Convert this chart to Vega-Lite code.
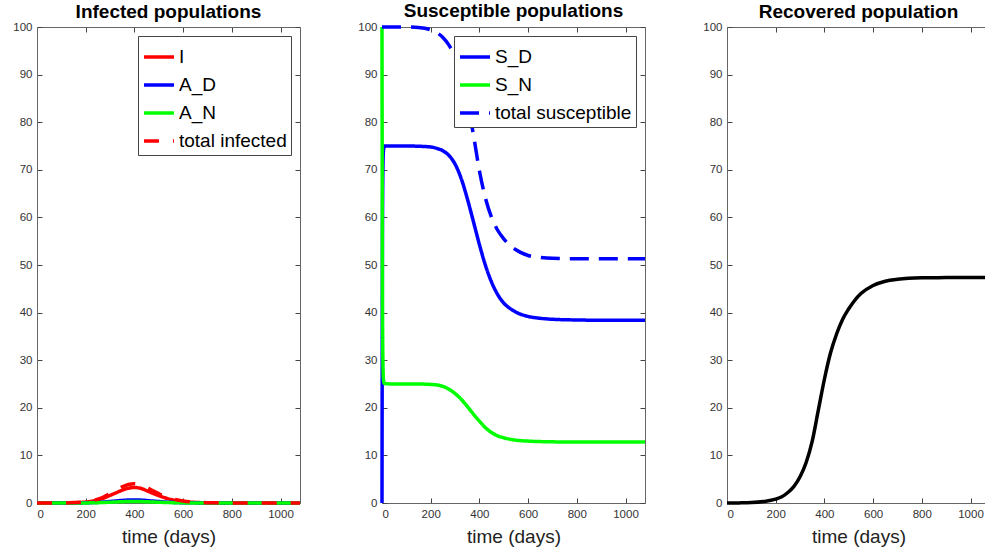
{
  "$schema": "https://vega.github.io/schema/vega-lite/v6.json",
  "background": "white",
  "padding": {"left": 12, "top": 2, "right": 0, "bottom": 0},
  "config": {
    "font": "Liberation Sans",
    "view": {"stroke": null},
    "axis": {
      "grid": false,
      "domainColor": "#666",
      "domainWidth": 1,
      "tickColor": "#444",
      "tickWidth": 1,
      "tickSize": -5,
      "labelPadding": 10,
      "labelFont": "Liberation Sans",
      "labelFontSize": 11.5,
      "labelColor": "#333",
      "format": "d",
      "titleFont": "Liberation Sans",
      "titleFontSize": 19,
      "titleFontWeight": "normal",
      "titleColor": "#222",
      "titlePadding": 8
    },
    "title": {"font": "Liberation Sans", "fontSize": 19, "fontWeight": "bold", "color": "#000", "offset": -1},
    "legend": {
      "labelFont": "Liberation Sans",
      "labelFontSize": 19,
      "labelColor": "#000",
      "labelLimit": 400,
      "symbolType": "stroke",
      "symbolSize": 900,
      "symbolStrokeWidth": 3.5,
      "strokeColor": "#444",
      "fillColor": "white",
      "padding": 4,
      "rowPadding": 1,
      "labelOffset": 3,
      "offset": 9
    },
    "concat": {"spacing": 50}
  },
  "datasets": {
    "infected": [
      {"series": "I", "t": 0, "v": 0}, {"series": "I", "t": 50, "v": 0}, {"series": "I", "t": 100, "v": 0.01}, {"series": "I", "t": 150, "v": 0.06}, {"series": "I", "t": 200, "v": 0.2}, {"series": "I", "t": 225, "v": 0.38}, {"series": "I", "t": 250, "v": 0.65}, {"series": "I", "t": 275, "v": 1.05}, {"series": "I", "t": 300, "v": 1.6}, {"series": "I", "t": 325, "v": 2.15}, {"series": "I", "t": 350, "v": 2.7}, {"series": "I", "t": 375, "v": 3.1}, {"series": "I", "t": 400, "v": 3.25}, {"series": "I", "t": 425, "v": 3.1}, {"series": "I", "t": 450, "v": 2.6}, {"series": "I", "t": 475, "v": 2.05}, {"series": "I", "t": 500, "v": 1.55}, {"series": "I", "t": 525, "v": 1.1}, {"series": "I", "t": 550, "v": 0.75}, {"series": "I", "t": 600, "v": 0.32}, {"series": "I", "t": 650, "v": 0.13}, {"series": "I", "t": 700, "v": 0.05}, {"series": "I", "t": 800, "v": 0.01}, {"series": "I", "t": 900, "v": 0}, {"series": "I", "t": 1000, "v": 0}, {"series": "I", "t": 1080, "v": 0},
      {"series": "A_D", "t": 0, "v": 0}, {"series": "A_D", "t": 50, "v": 0}, {"series": "A_D", "t": 100, "v": 0}, {"series": "A_D", "t": 150, "v": 0.01}, {"series": "A_D", "t": 200, "v": 0.04}, {"series": "A_D", "t": 225, "v": 0.08}, {"series": "A_D", "t": 250, "v": 0.13}, {"series": "A_D", "t": 275, "v": 0.21}, {"series": "A_D", "t": 300, "v": 0.32}, {"series": "A_D", "t": 325, "v": 0.43}, {"series": "A_D", "t": 350, "v": 0.54}, {"series": "A_D", "t": 375, "v": 0.62}, {"series": "A_D", "t": 400, "v": 0.65}, {"series": "A_D", "t": 425, "v": 0.62}, {"series": "A_D", "t": 450, "v": 0.52}, {"series": "A_D", "t": 475, "v": 0.41}, {"series": "A_D", "t": 500, "v": 0.31}, {"series": "A_D", "t": 525, "v": 0.22}, {"series": "A_D", "t": 550, "v": 0.15}, {"series": "A_D", "t": 600, "v": 0.06}, {"series": "A_D", "t": 650, "v": 0.03}, {"series": "A_D", "t": 700, "v": 0.01}, {"series": "A_D", "t": 800, "v": 0}, {"series": "A_D", "t": 900, "v": 0}, {"series": "A_D", "t": 1000, "v": 0}, {"series": "A_D", "t": 1080, "v": 0},
      {"series": "A_N", "t": 0, "v": 0}, {"series": "A_N", "t": 50, "v": 0}, {"series": "A_N", "t": 100, "v": 0}, {"series": "A_N", "t": 150, "v": 0.01}, {"series": "A_N", "t": 200, "v": 0.02}, {"series": "A_N", "t": 225, "v": 0.04}, {"series": "A_N", "t": 250, "v": 0.07}, {"series": "A_N", "t": 275, "v": 0.11}, {"series": "A_N", "t": 300, "v": 0.16}, {"series": "A_N", "t": 325, "v": 0.22}, {"series": "A_N", "t": 350, "v": 0.27}, {"series": "A_N", "t": 375, "v": 0.31}, {"series": "A_N", "t": 400, "v": 0.33}, {"series": "A_N", "t": 425, "v": 0.31}, {"series": "A_N", "t": 450, "v": 0.26}, {"series": "A_N", "t": 475, "v": 0.21}, {"series": "A_N", "t": 500, "v": 0.16}, {"series": "A_N", "t": 525, "v": 0.11}, {"series": "A_N", "t": 550, "v": 0.08}, {"series": "A_N", "t": 600, "v": 0.03}, {"series": "A_N", "t": 650, "v": 0.01}, {"series": "A_N", "t": 700, "v": 0.01}, {"series": "A_N", "t": 800, "v": 0}, {"series": "A_N", "t": 900, "v": 0}, {"series": "A_N", "t": 1000, "v": 0}, {"series": "A_N", "t": 1080, "v": 0},
      {"series": "total infected", "t": 0, "v": 0}, {"series": "total infected", "t": 50, "v": 0}, {"series": "total infected", "t": 100, "v": 0.01}, {"series": "total infected", "t": 150, "v": 0.08}, {"series": "total infected", "t": 200, "v": 0.25}, {"series": "total infected", "t": 225, "v": 0.48}, {"series": "total infected", "t": 250, "v": 0.82}, {"series": "total infected", "t": 275, "v": 1.32}, {"series": "total infected", "t": 300, "v": 2.0}, {"series": "total infected", "t": 325, "v": 2.7}, {"series": "total infected", "t": 350, "v": 3.4}, {"series": "total infected", "t": 375, "v": 3.9}, {"series": "total infected", "t": 400, "v": 4.05}, {"series": "total infected", "t": 425, "v": 3.9}, {"series": "total infected", "t": 450, "v": 3.3}, {"series": "total infected", "t": 475, "v": 2.6}, {"series": "total infected", "t": 500, "v": 1.97}, {"series": "total infected", "t": 525, "v": 1.4}, {"series": "total infected", "t": 550, "v": 0.96}, {"series": "total infected", "t": 600, "v": 0.4}, {"series": "total infected", "t": 650, "v": 0.17}, {"series": "total infected", "t": 700, "v": 0.07}, {"series": "total infected", "t": 800, "v": 0.01}, {"series": "total infected", "t": 900, "v": 0}, {"series": "total infected", "t": 1000, "v": 0}, {"series": "total infected", "t": 1080, "v": 0}
    ],
    "susceptible": [
      {"series": "S_D", "t": 0, "v": 0}, {"series": "S_D", "t": 1, "v": 35}, {"series": "S_D", "t": 2, "v": 58}, {"series": "S_D", "t": 4, "v": 71}, {"series": "S_D", "t": 6, "v": 74}, {"series": "S_D", "t": 10, "v": 75}, {"series": "S_D", "t": 50, "v": 75}, {"series": "S_D", "t": 100, "v": 75}, {"series": "S_D", "t": 150, "v": 74.95}, {"series": "S_D", "t": 200, "v": 74.8}, {"series": "S_D", "t": 225, "v": 74.5}, {"series": "S_D", "t": 250, "v": 74}, {"series": "S_D", "t": 275, "v": 73}, {"series": "S_D", "t": 300, "v": 71.2}, {"series": "S_D", "t": 325, "v": 68.2}, {"series": "S_D", "t": 350, "v": 64}, {"series": "S_D", "t": 375, "v": 59.2}, {"series": "S_D", "t": 400, "v": 54.3}, {"series": "S_D", "t": 425, "v": 49.9}, {"series": "S_D", "t": 450, "v": 46.4}, {"series": "S_D", "t": 475, "v": 43.8}, {"series": "S_D", "t": 500, "v": 42}, {"series": "S_D", "t": 525, "v": 40.9}, {"series": "S_D", "t": 550, "v": 40.1}, {"series": "S_D", "t": 600, "v": 39.2}, {"series": "S_D", "t": 650, "v": 38.8}, {"series": "S_D", "t": 700, "v": 38.6}, {"series": "S_D", "t": 800, "v": 38.45}, {"series": "S_D", "t": 900, "v": 38.4}, {"series": "S_D", "t": 1000, "v": 38.4}, {"series": "S_D", "t": 1080, "v": 38.4},
      {"series": "S_N", "t": 0, "v": 100}, {"series": "S_N", "t": 1, "v": 65}, {"series": "S_N", "t": 2, "v": 42}, {"series": "S_N", "t": 4, "v": 29}, {"series": "S_N", "t": 6, "v": 26}, {"series": "S_N", "t": 10, "v": 25.1}, {"series": "S_N", "t": 50, "v": 25}, {"series": "S_N", "t": 100, "v": 25}, {"series": "S_N", "t": 150, "v": 25}, {"series": "S_N", "t": 200, "v": 24.9}, {"series": "S_N", "t": 225, "v": 24.8}, {"series": "S_N", "t": 250, "v": 24.5}, {"series": "S_N", "t": 275, "v": 23.9}, {"series": "S_N", "t": 300, "v": 23}, {"series": "S_N", "t": 325, "v": 21.8}, {"series": "S_N", "t": 350, "v": 20.3}, {"series": "S_N", "t": 375, "v": 18.7}, {"series": "S_N", "t": 400, "v": 17.2}, {"series": "S_N", "t": 425, "v": 15.8}, {"series": "S_N", "t": 450, "v": 14.8}, {"series": "S_N", "t": 475, "v": 14.1}, {"series": "S_N", "t": 500, "v": 13.7}, {"series": "S_N", "t": 550, "v": 13.2}, {"series": "S_N", "t": 600, "v": 13}, {"series": "S_N", "t": 650, "v": 12.9}, {"series": "S_N", "t": 700, "v": 12.85}, {"series": "S_N", "t": 800, "v": 12.8}, {"series": "S_N", "t": 900, "v": 12.8}, {"series": "S_N", "t": 1000, "v": 12.8}, {"series": "S_N", "t": 1080, "v": 12.8},
      {"series": "total susceptible", "t": 0, "v": 100}, {"series": "total susceptible", "t": 50, "v": 100}, {"series": "total susceptible", "t": 100, "v": 100}, {"series": "total susceptible", "t": 150, "v": 99.9}, {"series": "total susceptible", "t": 200, "v": 99.4}, {"series": "total susceptible", "t": 225, "v": 98.8}, {"series": "total susceptible", "t": 250, "v": 97.8}, {"series": "total susceptible", "t": 275, "v": 96.2}, {"series": "total susceptible", "t": 300, "v": 93.8}, {"series": "total susceptible", "t": 325, "v": 90}, {"series": "total susceptible", "t": 350, "v": 84.5}, {"series": "total susceptible", "t": 375, "v": 77.5}, {"series": "total susceptible", "t": 400, "v": 69.8}, {"series": "total susceptible", "t": 425, "v": 64}, {"series": "total susceptible", "t": 450, "v": 60}, {"series": "total susceptible", "t": 475, "v": 57.3}, {"series": "total susceptible", "t": 500, "v": 55.5}, {"series": "total susceptible", "t": 550, "v": 53.2}, {"series": "total susceptible", "t": 600, "v": 52}, {"series": "total susceptible", "t": 650, "v": 51.6}, {"series": "total susceptible", "t": 700, "v": 51.4}, {"series": "total susceptible", "t": 800, "v": 51.3}, {"series": "total susceptible", "t": 900, "v": 51.3}, {"series": "total susceptible", "t": 1000, "v": 51.3}, {"series": "total susceptible", "t": 1080, "v": 51.3}
    ],
    "recovered": [
      {"t": 0, "v": 0}, {"t": 50, "v": 0.02}, {"t": 100, "v": 0.08}, {"t": 150, "v": 0.3}, {"t": 200, "v": 0.8}, {"t": 225, "v": 1.3}, {"t": 250, "v": 2.2}, {"t": 275, "v": 3.5}, {"t": 300, "v": 5.5}, {"t": 325, "v": 8.5}, {"t": 350, "v": 13}, {"t": 375, "v": 19.5}, {"t": 400, "v": 26}, {"t": 425, "v": 31.5}, {"t": 450, "v": 35.5}, {"t": 475, "v": 38.6}, {"t": 500, "v": 40.8}, {"t": 525, "v": 42.6}, {"t": 550, "v": 44}, {"t": 600, "v": 45.7}, {"t": 650, "v": 46.6}, {"t": 700, "v": 47}, {"t": 800, "v": 47.3}, {"t": 900, "v": 47.35}, {"t": 1000, "v": 47.4}, {"t": 1080, "v": 47.4}
    ]
  },
  "hconcat": [
    {
      "width": 263,
      "height": 476,
      "title": "Infected populations",
      "data": {"name": "infected"},
      "layer": [
        {
          "mark": {"type": "line", "strokeWidth": 3.5, "interpolate": "monotone"},
          "encoding": {
            "x": {"field": "t", "type": "quantitative", "scale": {"domain": [0, 1080], "nice": false}, "axis": {"values": [0, 200, 400, 600, 800, 1000], "title": "time (days)"}},
            "y": {"field": "v", "type": "quantitative", "scale": {"domain": [0, 100], "nice": false}, "axis": {"values": [0, 10, 20, 30, 40, 50, 60, 70, 80, 90, 100], "title": null}},
            "color": {"field": "series", "type": "nominal", "sort": null, "scale": {"domain": ["I", "A_D", "A_N", "total infected"], "range": ["#ff0000", "#0000ff", "#00ff00", "#ff0000"]}, "legend": {"orient": "top-right", "title": null}},
            "strokeDash": {"field": "series", "type": "nominal", "sort": null, "scale": {"domain": ["I", "A_D", "A_N", "total infected"], "range": [[1, 0], [1, 0], [1, 0], [15, 14]]}, "legend": {"orient": "top-right", "title": null}}
          }
        },
        {
          "mark": {"type": "point", "opacity": 0},
          "encoding": {
            "x": {"field": "t", "type": "quantitative", "axis": {"orient": "top", "values": [0, 200, 400, 600, 800, 1000], "labels": false, "title": null}},
            "y": {"field": "v", "type": "quantitative", "axis": {"orient": "right", "values": [0, 10, 20, 30, 40, 50, 60, 70, 80, 90, 100], "labels": false, "title": null}}
          }
        }
      ],
      "resolve": {"axis": {"x": "independent", "y": "independent"}}
    },
    {
      "width": 263,
      "height": 476,
      "title": "Susceptible populations",
      "data": {"name": "susceptible"},
      "layer": [
        {
          "mark": {"type": "line", "strokeWidth": 3.5, "interpolate": "monotone"},
          "encoding": {
            "x": {"field": "t", "type": "quantitative", "scale": {"domain": [0, 1080], "nice": false}, "axis": {"values": [0, 200, 400, 600, 800, 1000], "title": "time (days)"}},
            "y": {"field": "v", "type": "quantitative", "scale": {"domain": [0, 100], "nice": false}, "axis": {"values": [0, 10, 20, 30, 40, 50, 60, 70, 80, 90, 100], "title": null}},
            "color": {"field": "series", "type": "nominal", "sort": null, "scale": {"domain": ["S_D", "S_N", "total susceptible"], "range": ["#0000ff", "#00ff00", "#0000ff"]}, "legend": {"orient": "top-right", "title": null}},
            "strokeDash": {"field": "series", "type": "nominal", "sort": null, "scale": {"domain": ["S_D", "S_N", "total susceptible"], "range": [[1, 0], [1, 0], [19, 10]]}, "legend": {"orient": "top-right", "title": null}}
          }
        },
        {
          "mark": {"type": "point", "opacity": 0},
          "encoding": {
            "x": {"field": "t", "type": "quantitative", "axis": {"orient": "top", "values": [0, 200, 400, 600, 800, 1000], "labels": false, "title": null}},
            "y": {"field": "v", "type": "quantitative", "axis": {"orient": "right", "values": [0, 10, 20, 30, 40, 50, 60, 70, 80, 90, 100], "labels": false, "title": null}}
          }
        }
      ],
      "resolve": {"axis": {"x": "independent", "y": "independent"}}
    },
    {
      "width": 263,
      "height": 476,
      "title": "Recovered population",
      "data": {"name": "recovered"},
      "layer": [
        {
          "mark": {"type": "line", "strokeWidth": 3.5, "interpolate": "monotone", "color": "#000000"},
          "encoding": {
            "x": {"field": "t", "type": "quantitative", "scale": {"domain": [0, 1080], "nice": false}, "axis": {"values": [0, 200, 400, 600, 800, 1000], "title": "time (days)"}},
            "y": {"field": "v", "type": "quantitative", "scale": {"domain": [0, 100], "nice": false}, "axis": {"values": [0, 10, 20, 30, 40, 50, 60, 70, 80, 90, 100], "title": null}}
          }
        },
        {
          "mark": {"type": "point", "opacity": 0},
          "encoding": {
            "x": {"field": "t", "type": "quantitative", "axis": {"orient": "top", "values": [0, 200, 400, 600, 800, 1000], "labels": false, "title": null}},
            "y": {"field": "v", "type": "quantitative", "axis": {"orient": "right", "values": [0, 10, 20, 30, 40, 50, 60, 70, 80, 90, 100], "labels": false, "title": null}}
          }
        }
      ],
      "resolve": {"axis": {"x": "independent", "y": "independent"}}
    }
  ],
  "resolve": {"scale": {"color": "independent", "strokeDash": "independent"}}
}
